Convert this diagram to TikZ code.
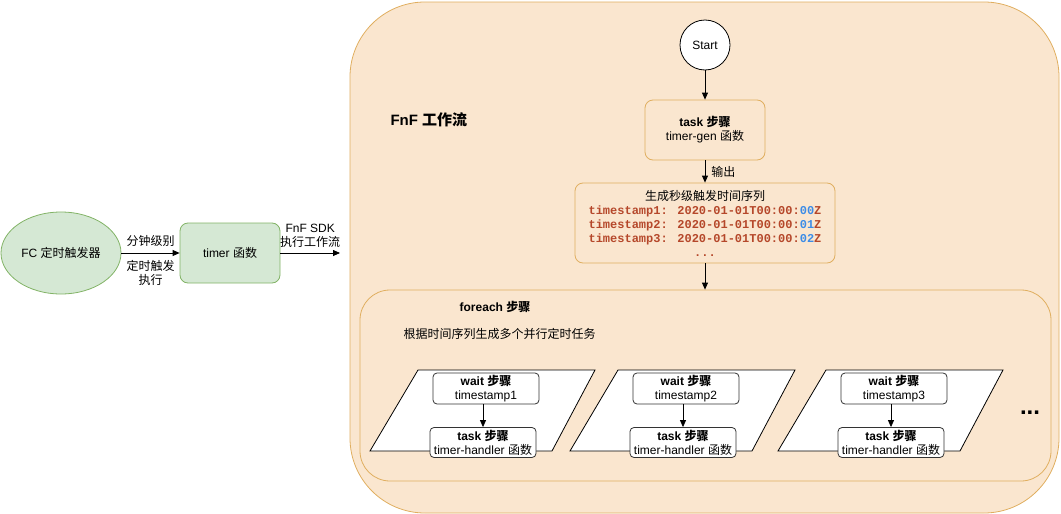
\documentclass[tikz,border=0pt]{standalone}
\usepackage{fontspec}
\setmainfont{Liberation Sans}
\newfontfamily\cjk{Noto Sans CJK SC}
\newfontfamily\tsfont{Liberation Mono}
\usetikzlibrary{arrows.meta,shapes.geometric}
\definecolor{ofill}{HTML}{FAE6CF}
\definecolor{ostroke}{HTML}{E0AE5F}
\definecolor{gfill}{HTML}{D5E8D4}
\definecolor{gstroke}{HTML}{82B366}
\definecolor{tsred}{HTML}{B5472A}
\definecolor{tsblue}{HTML}{3C8CE7}
\newcommand{\tsline}[2]{{\tsfont\bfseries\color{tsred}timestamp#1: 2020-01-01T00:00:\textcolor{tsblue}{#2}Z}}
\tikzset{
  obox/.style={draw=ostroke, fill=ofill, rounded corners=8pt, line width=0.8pt, align=center},
  gbox/.style={draw=gstroke, fill=gfill, rounded corners=8pt, line width=0.8pt, align=center},
  wbox/.style={draw=black!80, fill=white, rounded corners=4pt, line width=0.8pt, align=center, inner sep=0pt},
  arr/.style={-{Triangle[length=7pt,width=6pt]}, line width=0.8pt},
  para/.style={draw=black, fill=white, line width=0.8pt},
  lbl/.style={align=center, inner sep=0pt},
}
\begin{document}
\begin{tikzpicture}[x=1pt, y=-1pt, every node/.append style={font=\fontsize{12}{14}\selectfont}]
\useasboundingbox (0,0) rectangle (1061,514);

% left part
\node[ellipse, draw=gstroke, fill=gfill, line width=0.8pt, minimum width=120pt, minimum height=82pt, inner sep=0pt] (fc) at (61,253) {FC {\cjk 定时触发器}};
\node[gbox, minimum width=100pt, minimum height=60pt] (timer) at (230,253) {timer {\cjk 函数}};
\coordinate (sdkend) at (340,253);
\draw[arr] (fc) -- node[lbl, above=6pt] {\cjk 分钟级别} node[lbl, below=7pt] {{\cjk 定时触发}\\{\cjk 执行}} (timer);
\draw[arr] (timer) -- node[lbl, above=5pt] {FnF SDK\\{\cjk 执行工作流}} (sdkend);

% workflow container
\node[obox, rounded corners=75pt, minimum width=709pt, minimum height=511pt] (flow) at (704.5,257.5) {};
\node[anchor=west, font=\fontsize{15}{18}\selectfont\bfseries] (title) at (387,120) {FnF {\cjk 工作流}};

\node[circle, draw, fill=white, minimum size=50pt, inner sep=0pt, line width=0.8pt] (start) at (705,45) {Start};
\node[obox, minimum width=120pt, minimum height=60pt] (gen) at (705,130) {\textbf{task {\cjk 步骤}}\\timer-gen {\cjk 函数}};
\node[obox, minimum width=260pt, minimum height=80pt] (seq) at (705,223) {{\cjk 生成秒级触发时间序列}\\\tsline{1}{00}\\\tsline{2}{01}\\\tsline{3}{02}\\{\tsfont\bfseries\color{tsred}...}};
\draw[arr] (start) -- (gen);
\draw[arr] (gen) -- node[right=6pt, inner sep=0pt] {\cjk 输出} (seq);

\node[obox, rounded corners=30pt, minimum width=691pt, minimum height=191pt] (fe) at (705.5,385.5) {};
\draw[arr] (seq.south) -- (seq.south |- fe.north);
\node[font=\fontsize{12}{14}\selectfont\bfseries] (felbl) at (495,307) {foreach {\cjk 步骤}};
\node[anchor=west] (desc) at (400,334) {\cjk 根据时间序列生成多个并行定时任务};

\foreach \dx/\i in {0/1, 200/2, 408/3} {
  \draw[para] (418+\dx,370) -- (595+\dx,370) -- (552+\dx,451) -- (370+\dx,451) -- cycle;
  \node[wbox, minimum width=106pt, minimum height=31pt] (w\i) at (486+\dx,388.5) {\textbf{wait {\cjk 步骤}}\\timestamp\i};
  \node[wbox, minimum width=106pt, minimum height=30pt] (t\i) at (483+\dx,442.5) {\textbf{task {\cjk 步骤}}\\timer-handler {\cjk 函数}};
  \draw[arr] (t\i.north |- w\i.south) -- (t\i.north);
}
\node[font=\fontsize{24}{26}\selectfont\bfseries, inner sep=0pt] (more) at (1030,413) {...};
\end{tikzpicture}
\end{document}
